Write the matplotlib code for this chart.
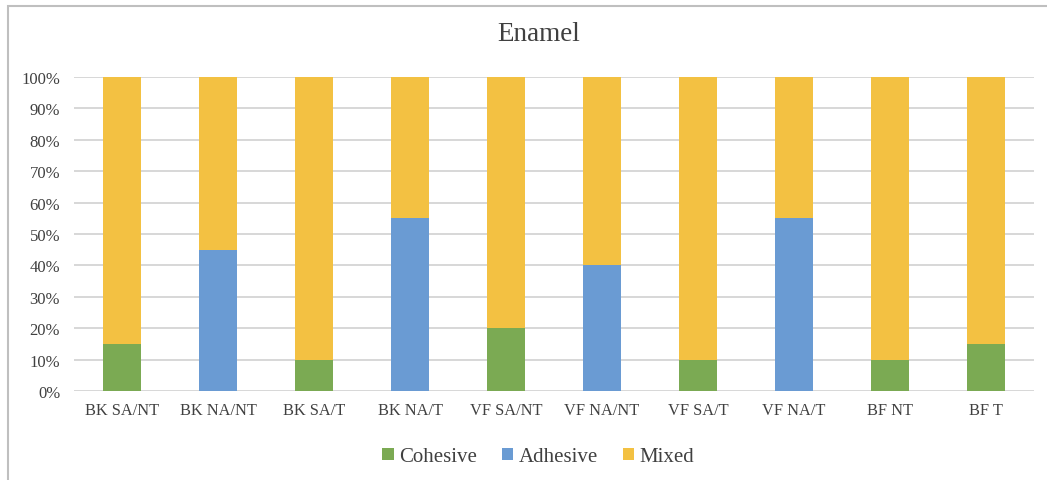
import matplotlib.pyplot as plt
from matplotlib.patches import Rectangle
from matplotlib.ticker import PercentFormatter

groups = ["BK SA/NT", "BK NA/NT", "BK SA/T", "BK NA/T", "VF SA/NT",
          "VF NA/NT", "VF SA/T", "VF NA/T", "BF NT", "BF T"]
cohesive = [15, 0, 10, 0, 20, 0, 10, 0, 10, 15]
adhesive = [0, 45, 0, 55, 0, 40, 0, 55, 0, 0]
mixed = [85, 55, 90, 45, 80, 60, 90, 45, 90, 85]

plt.rcParams["font.family"] = ["Liberation Serif", "DejaVu Serif"]

fig = plt.figure(figsize=(10.47, 4.81), dpi=100)
ax = fig.add_axes([0.0707, 0.185, 0.917, 0.653])

x = list(range(len(groups)))
bottom2 = [c + a for c, a in zip(cohesive, adhesive)]
ax.bar(x, cohesive, width=0.4, color="#7BAA53", label="Cohesive", zorder=2)
ax.bar(x, adhesive, width=0.4, bottom=cohesive, color="#6A9BD3",
       label="Adhesive", zorder=2)
ax.bar(x, mixed, width=0.4, bottom=bottom2, color="#F3C142",
       label="Mixed", zorder=2)

ax.set_xlim(-0.5, len(groups) - 0.5)
ax.set_ylim(0, 100)
ax.set_yticks(range(0, 101, 10))
ax.yaxis.set_major_formatter(PercentFormatter(decimals=0))
ax.set_xticks(x)
ax.set_xticklabels(groups)
ax.tick_params(axis="x", length=0, labelsize=11.8, colors="#404040", pad=8)
ax.tick_params(axis="y", length=0, labelsize=12, colors="#404040", pad=10)
ax.grid(axis="y", color="#D4D4D4", linewidth=1.3, zorder=0)
for s in ax.spines.values():
    s.set_visible(False)

fig.text(0.514, 0.928, "Enamel", ha="center", va="center",
         fontsize=19.5, color="#404040")

fig.legend(loc="center", bbox_to_anchor=(0.514, 0.048), ncol=3, frameon=False,
           fontsize=15, handlelength=0.55, handleheight=0.55,
           handletextpad=0.25, columnspacing=1.2, labelcolor="#404040")

# outer frame
fig.patches.append(Rectangle((7.5 / 1047, -0.1), 1.2, 1 - 6.5 / 481 + 0.1,
                             transform=fig.transFigure, fill=False,
                             edgecolor="#BFBFBF", linewidth=1.5))

fig.savefig("out.png", dpi=100)
